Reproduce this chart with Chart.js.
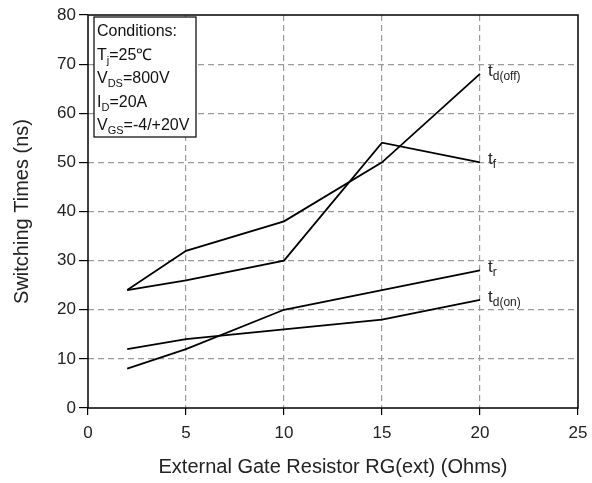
<!DOCTYPE html>
<html>
<head>
<meta charset="utf-8">
<script src="https://cdn.jsdelivr.net/npm/chart.js@4.4.1/dist/chart.umd.min.js"></script>
<style>
  html, body { margin: 0; padding: 0; background: #fff; }
  #wrap { width: 592px; height: 483px; }
</style>
</head>
<body>
<div id="wrap"><canvas id="chart"></canvas></div>
<script>
// gate resistor values (Ohms)
const rg = [2, 5, 10, 15, 20];
// switching times (ns)
const tdOff = [24, 32, 38, 50, 68];
const tf = [24, 26, 30, 54, 50];
const tr = [8, 12, 20, 24, 28];
const tdOn = [12, 14, 16, 18, 22];
// curve end labels: main letter + subscript
const curveNames = [['t', 'd(off)'], ['t', 'f'], ['t', 'r'], ['t', 'd(on)']];
const conditions = [
  [['Conditions:', '']],
  [['T', ''], ['j', 'sub'], ['=25\u2103', '']],
  [['V', ''], ['DS', 'sub'], ['=800V', '']],
  [['I', ''], ['D', 'sub'], ['=20A', '']],
  [['V', ''], ['GS', 'sub'], ['=-4/+20V', '']]
];

const FONT = 'Liberation Sans, Arial, sans-serif';

function toPts(ys) {
  return rg.map((x, i) => ({ x: x, y: ys[i] }));
}

function lineSet(name, ys) {
  return {
    label: name,
    data: toPts(ys),
    borderColor: '#000',
    borderWidth: 1.8,
    pointRadius: 0,
    fill: false,
    tension: 0
  };
}

// frame, condition box and curve labels
const extras = {
  id: 'extras',
  afterDatasetsDraw(chart) {
    const ctx = chart.ctx;
    const a = chart.chartArea;
    const xs = chart.scales.x, ys = chart.scales.y;
    ctx.save();
    ctx.strokeStyle = '#000';
    ctx.lineWidth = 1.5;
    ctx.strokeRect(a.left, a.top, a.right - a.left, a.bottom - a.top);

    // curve labels at the last point
    ctx.fillStyle = '#222';
    ctx.textBaseline = 'alphabetic';
    chart.data.datasets.forEach((ds, i) => {
      const last = ds.data[ds.data.length - 1];
      const px = xs.getPixelForValue(last.x) + 8;
      const py = ys.getPixelForValue(last.y) + 2;
      ctx.font = '17px ' + FONT;
      ctx.fillText(curveNames[i][0], px, py);
      const w = ctx.measureText(curveNames[i][0]).width;
      ctx.font = '12px ' + FONT;
      ctx.fillText(curveNames[i][1], px + w, py + 4);
    });

    // conditions box
    const bx = a.left + 6, by = a.top + 2, bw = 102, bh = 120;
    ctx.fillStyle = '#fff';
    ctx.fillRect(bx, by, bw, bh);
    ctx.lineWidth = 1.2;
    ctx.strokeRect(bx, by, bw, bh);
    ctx.fillStyle = '#111';
    conditions.forEach((parts, i) => {
      let x = bx + 3;
      const y = by + 19 + i * 23.5;
      parts.forEach(p => {
        if (p[1] === 'sub') {
          ctx.font = '11px ' + FONT;
          ctx.fillText(p[0], x, y + 4);
        } else {
          ctx.font = '16px ' + FONT;
          ctx.fillText(p[0], x, y);
        }
        x += ctx.measureText(p[0]).width;
      });
    });
    ctx.restore();
  }
};

function gridColor(c) {
  const v = c.tick ? c.tick.value : null;
  const s = c.scale;
  if (v === s.min || v === s.max) return 'rgba(0,0,0,0)';
  return '#9a9a9a';
}

new Chart(document.getElementById('chart'), {
  type: 'line',
  data: {
    datasets: [
      lineSet('td(off)', tdOff),
      lineSet('tf', tf),
      lineSet('tr', tr),
      lineSet('td(on)', tdOn)
    ]
  },
  options: {
    responsive: true,
    maintainAspectRatio: false,
    animation: false,
    layout: { padding: { top: 15, right: 14, left: 0, bottom: 0 } },
    plugins: { legend: { display: false }, tooltip: { enabled: false } },
    scales: {
      x: {
        type: 'linear',
        min: 0,
        max: 25,
        ticks: { stepSize: 5, color: '#222', font: { family: FONT, size: 17 }, padding: 8, maxRotation: 0 },
        grid: { color: gridColor, tickColor: '#000', tickBorderDash: [], tickLength: 7, lineWidth: 1.2 },
        border: { display: false, dash: [6, 4] },
        title: { display: true, text: 'External Gate Resistor RG(ext) (Ohms)', color: '#222', font: { family: FONT, size: 20 }, padding: { top: 6 } },
        afterFit(s) { s.height = 75; s.paddingLeft = 0; s.paddingRight = 0; }
      },
      y: {
        min: 0,
        max: 80,
        ticks: { stepSize: 10, color: '#222', font: { family: FONT, size: 17 }, padding: 3 },
        grid: { color: gridColor, tickColor: '#000', tickBorderDash: [], tickLength: 9, lineWidth: 1.2 },
        border: { display: false, dash: [6, 4] },
        title: { display: true, text: 'Switching Times (ns)', color: '#222', font: { family: FONT, size: 20 }, padding: { top: 10, bottom: 10 } },
        afterFit(s) { s.width = 88; s.paddingTop = 0; s.paddingBottom = 0; }
      }
    }
  },
  plugins: [extras]
});
</script>
</body>
</html>
